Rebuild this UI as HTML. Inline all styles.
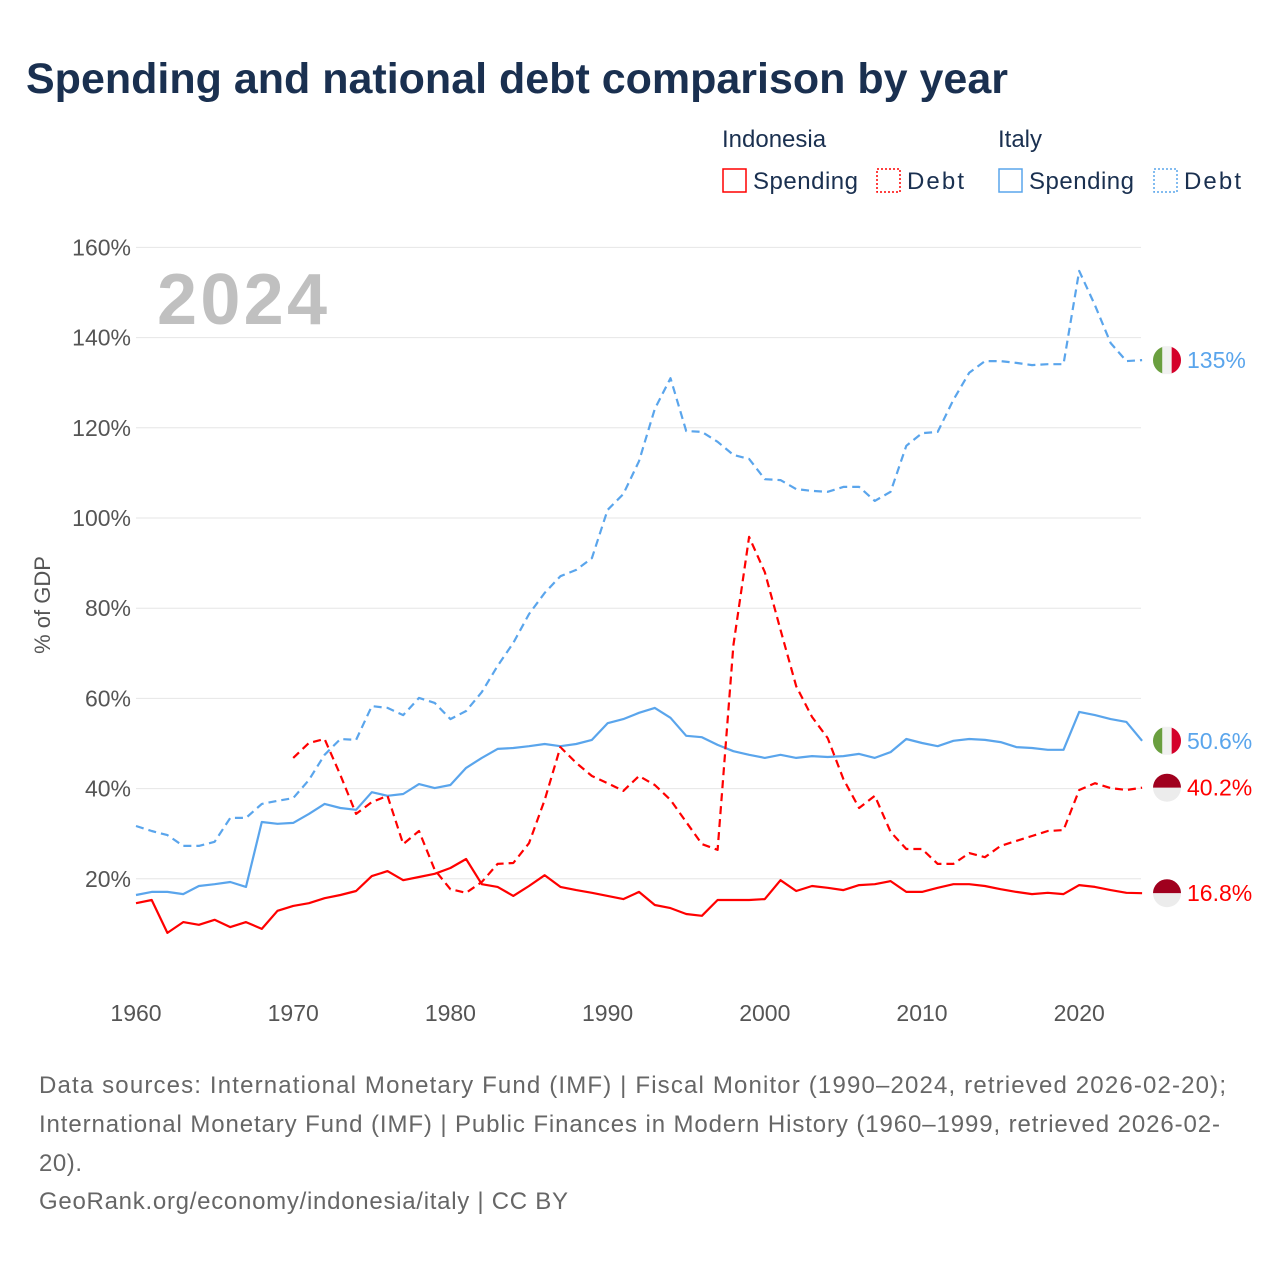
<!DOCTYPE html>
<html><head><meta charset="utf-8"><style>
body{margin:0;background:#fff;font-family:"Liberation Sans",sans-serif;}
svg{display:block}
</style></head><body>
<svg width="1280" height="1280" xmlns="http://www.w3.org/2000/svg" id="chart">
<text x="26" y="93" font-size="43" font-weight="bold" fill="#1a3050">Spending and national debt comparison by year</text>
<g font-size="24" fill="#1a3050">
<text x="722" y="147">Indonesia</text>
<text x="998" y="147">Italy</text>
<g><rect x="723" y="169" width="23" height="23" fill="none" stroke="#f00" stroke-width="1.5"/><text x="753" y="189" textLength="105">Spending</text></g>
<g><rect x="877" y="169" width="23" height="23" fill="none" stroke="#f00" stroke-width="1.5" stroke-dasharray="2,2"/><text x="907" y="189" textLength="57">Debt</text></g>
<g><rect x="999" y="169" width="23" height="23" fill="none" stroke="#5aa5ec" stroke-width="1.5"/><text x="1029" y="189" textLength="105">Spending</text></g>
<g><rect x="1154" y="169" width="23" height="23" fill="none" stroke="#5aa5ec" stroke-width="1.5" stroke-dasharray="2,2"/><text x="1184" y="189" textLength="57">Debt</text></g>
</g>
<g id="grid"></g>
<text x="157" y="324" font-size="72" font-weight="bold" fill="#c0c0c0" textLength="170">2024</text>
<text transform="translate(50,605) rotate(-90)" text-anchor="middle" font-size="22" fill="#555">% of GDP</text>
<g id="series"></g>
<g id="ends"></g>
<g font-size="24" fill="#666">
<text x="39" y="1093" textLength="1187">Data sources: International Monetary Fund (IMF) | Fiscal Monitor (1990–2024, retrieved 2026-02-20);</text>
<text x="39" y="1132" textLength="1181">International Monetary Fund (IMF) | Public Finances in Modern History (1960–1999, retrieved 2026-02-</text>
<text x="39" y="1171" textLength="43">20).</text>
<text x="39" y="1209" textLength="529">GeoRank.org/economy/indonesia/italy | CC BY</text>
</g>
</svg>
<script>
const yTicks=[20,40,60,80,100,120,140,160];
const xTicks=[1960,1970,1980,1990,2000,2010,2020];
const idnSpendStart=1960;
const idnSpend=[14.6,15.3,8,10.4,9.8,10.9,9.3,10.4,8.9,12.9,14,14.6,15.7,16.4,17.3,20.6,21.7,19.7,20.4,21.1,22.4,24.4,18.8,18.2,16.2,18.4,20.8,18.2,17.5,16.9,16.2,15.5,17.1,14.2,13.5,12.2,11.8,15.3,15.3,15.3,15.5,19.7,17.3,18.4,18,17.5,18.6,18.8,19.5,17.1,17.1,18,18.8,18.8,18.4,17.7,17.1,16.6,16.9,16.6,18.6,18.2,17.5,16.9,16.8];
const idnDebtStart=1970;
const idnDebt=[46.8,50.1,51,43,34.4,37,38.4,27.7,30.6,22,17.7,16.9,19.3,23.3,23.5,27.9,37.5,49.2,45.7,42.8,41.2,39.5,42.8,40.8,37.5,32.6,27.7,26.4,71.8,95.8,88,75.2,62.7,55.9,51.2,42.1,35.7,38.4,30.4,26.6,26.6,23.3,23.3,25.7,24.8,27.3,28.4,29.5,30.6,30.8,39.7,41.2,40.1,39.7,40.2];
const itaSpendStart=1960;
const itaSpend=[16.4,17.1,17.1,16.6,18.4,18.8,19.3,18.2,32.6,32.2,32.4,34.4,36.6,35.7,35.3,39.2,38.4,38.8,41,40.1,40.8,44.6,46.8,48.8,49,49.4,49.9,49.4,49.9,50.8,54.5,55.4,56.8,57.9,55.7,51.7,51.4,49.7,48.3,47.5,46.8,47.5,46.8,47.2,47,47.2,47.7,46.8,48.1,51,50.1,49.4,50.6,51,50.8,50.3,49.2,49,48.6,48.6,57,56.3,55.4,54.8,50.6];
const itaDebtStart=1960;
const itaDebt=[31.7,30.6,29.7,27.3,27.3,28.2,33.5,33.5,36.6,37.3,37.9,41.9,47.5,51,50.8,58.3,57.9,56.3,60.1,59,55.4,57.2,61.4,67.2,72.3,78.7,83.4,87.1,88.5,91.1,101.8,105.3,112.6,124.2,131,119.3,119.1,116.9,114,113.1,108.6,108.4,106.4,106,105.8,106.9,106.9,103.8,105.8,116,118.8,119.1,126.2,132.2,134.8,134.8,134.4,133.9,134.1,134.1,154.8,147.2,138.8,134.8,135];
const endLabels=["135%","50.6%","40.2%","16.8%"];

const NS="http://www.w3.org/2000/svg";
const X=y=>136+(y-1960)*15.72;
const Y=v=>969-v*4.51;
function mk(tag,attrs,parent){const e=document.createElementNS(NS,tag);for(const k in attrs)e.setAttribute(k,attrs[k]);parent.appendChild(e);return e;}
const grid=document.getElementById('grid');
yTicks.forEach(t=>{
  const l=mk('line',{x1:136,x2:1141,y1:Y(t),y2:Y(t),stroke:'#e6e6e6','stroke-width':1},grid);
  
  
  const tx=mk('text',{x:131,y:Y(t)+8,'text-anchor':'end','font-size':23,fill:'#555'},grid);
  tx.textContent=t+'%';
  
  
});
xTicks.forEach(t=>{
  const tx=mk('text',{x:X(t),y:1021,'text-anchor':'middle','font-size':23,fill:'#555'},grid);
  tx.textContent=t;
  
  
});
const ser=document.getElementById('series');
function line(vals,start,color,dash,name){
  const d=vals.map((v,i)=>(i?'L':'M')+X(start+i).toFixed(1)+','+Y(v).toFixed(1)).join('');
  const p=mk('path',{d:d,fill:'none',stroke:color,'stroke-width':2.2,'stroke-linejoin':'round'},ser);
  if(dash)p.setAttribute('stroke-dasharray','8,5');
  
  
}
line(itaDebt,itaDebtStart,'#5aa5ec',true,'italy-debt-line');
line(itaSpend,itaSpendStart,'#5aa5ec',false,'italy-spending-line');
line(idnDebt,idnDebtStart,'#f00',true,'indonesia-debt-line');
line(idnSpend,idnSpendStart,'#f00',false,'indonesia-spending-line');

const ends=document.getElementById('ends');
const finals=[[itaDebt,'ita','#5aa5ec'],[itaSpend,'ita','#5aa5ec'],[idnDebt,'idn','#f00'],[idnSpend,'idn','#f00']];
finals.forEach((f,i)=>{
  const cy=Y(f[0][f[0].length-1]);const cx=1167,r=14;
  const g=mk('g',{},ends);
  
  
  if(f[1]==='ita'){
    mk('path',{d:`M${cx-r/3},${cy-r*0.943}A${r},${r} 0 0 0 ${cx-r/3},${cy+r*0.943}Z`,fill:'#6a9f3f'},g);
    mk('rect',{x:cx-r/3,y:cy-r,width:2*r/3,height:2*r,fill:'#f1f1f1'},g);
    mk('path',{d:`M${cx+r/3},${cy-r*0.943}A${r},${r} 0 0 1 ${cx+r/3},${cy+r*0.943}Z`,fill:'#d4002a'},g);
  }else{
    mk('path',{d:`M${cx-r},${cy}A${r},${r} 0 0 1 ${cx+r},${cy}Z`,fill:'#a0001e'},g);
    mk('path',{d:`M${cx-r},${cy}A${r},${r} 0 0 0 ${cx+r},${cy}Z`,fill:'#ececec'},g);
  }
  const t=mk('text',{x:1187,y:cy+8,'font-size':23,fill:f[2]},g);
  t.textContent=endLabels[i];
});
</script>
</body></html>
